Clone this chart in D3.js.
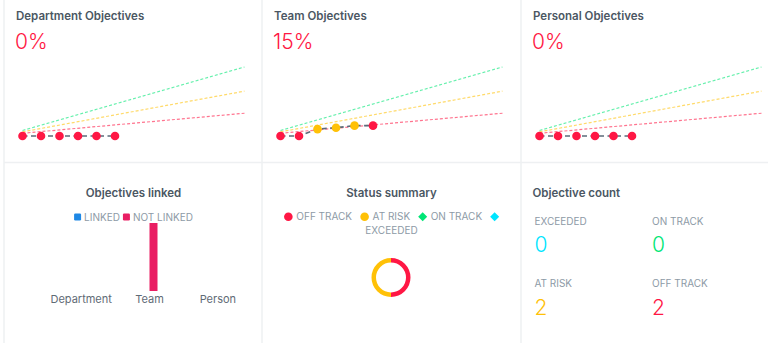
<!DOCTYPE html>
<html>
<head>
<meta charset="utf-8">
<script src="https://cdn.jsdelivr.net/npm/d3@7"></script>
<style>
  html, body { margin: 0; padding: 0; background: #ffffff; }
  svg { display: block; font-family: Inter, "Noto Sans", sans-serif; }
</style>
</head>
<body>
<svg id="dash" width="768" height="343"></svg>
<script>
// ---- data ----
const trendTitles = ["Department Objectives", "Team Objectives", "Personal Objectives"];
const trendProgress = [0, 15, 0];
const periodCount = 13;                      // periods on the progress axis
const deptProgress = [0, 0, 0, 0, 0, 0];
const deptStatus = ["off", "off", "off", "off", "off", "off"];
const teamProgress = [0, 0, 10, 12, 15, 15];
const teamStatus = ["off", "off", "risk", "risk", "risk", "off"];
const personalProgress = [0, 0, 0, 0, 0, 0];
const personalStatus = ["off", "off", "off", "off", "off", "off"];
// expected-progress guides: [first period, last period]
const onTrackGuide = [8, 100];
const atRiskGuide = [6, 65];
const offTrackGuide = [4, 33];

const linkCategories = ["Department", "Team", "Person"];
const linkedCounts = [0, 0, 0];
const notLinkedCounts = [0, 4, 0];

const statusNames = ["OFF TRACK", "AT RISK", "ON TRACK", "EXCEEDED"];
const statusCounts = [2, 2, 0, 0];

const countLabels = ["EXCEEDED", "ON TRACK", "AT RISK", "OFF TRACK"];
const countValues = [0, 0, 2, 2];

// ---- styling ----
const C = {
  off: "#ff1744", risk: "#ffc107", on: "#00e676", exceeded: "#00e5ff",
  linked: "#1e88e5", notLinked: "#e91e63",
  title: "#4b5763", muted: "#8d9aa6", axis: "#5f6b76", border: "#eef0f2", link: "#5b6b7a"
};
const statusColor = { off: C.off, risk: C.risk, on: C.on, exceeded: C.exceeded };
const legendFont = 10;

const svg = d3.select("#dash");

// panel grid
const colLeft = [4, 262, 521];
const rowSplit = 162.5;
svg.append("g").attr("stroke", C.border).attr("stroke-width", 1.5)
  .selectAll("line")
  .data([
    [colLeft[0], 0, colLeft[0], 343],
    [colLeft[1], 0, colLeft[1], 343],
    [colLeft[2], 0, colLeft[2], 343],
    [colLeft[0], rowSplit, 768, rowSplit]
  ])
  .join("line")
  .attr("x1", d => d[0]).attr("y1", d => d[1])
  .attr("x2", d => d[2]).attr("y2", d => d[3]);

// ---- progress trend panels ----
const trendSeries = [
  { values: deptProgress, status: deptStatus },
  { values: teamProgress, status: teamStatus },
  { values: personalProgress, status: personalStatus }
];
const guides = [
  { key: "on", v: onTrackGuide },
  { key: "risk", v: atRiskGuide },
  { key: "off", v: offTrackGuide }
];

trendSeries.forEach((s, i) => {
  const left = colLeft[i];
  const g = svg.append("g");
  g.append("text").attr("x", left + 12).attr("y", 20)
    .attr("font-size", 11.5).attr("font-weight", 600).attr("fill", C.title)
    .text(trendTitles[i]);
  g.append("text").attr("x", left + 11).attr("y", 49)
    .attr("font-size", 21).attr("font-weight", 300).attr("fill", C.off)
    .text(trendProgress[i] + "%");

  const x = d3.scaleLinear().domain([0, periodCount - 1]).range([left + 18.5, left + 240.5]);
  const y = d3.scaleLinear().domain([0, 100]).range([136, 67]);

  g.append("g").selectAll("line").data(guides).join("line")
    .attr("x1", x(0)).attr("x2", x(periodCount - 1))
    .attr("y1", d => y(d.v[0])).attr("y2", d => y(d.v[1]))
    .attr("stroke", d => statusColor[d.key]).attr("stroke-opacity", 0.6)
    .attr("stroke-width", 1.2).attr("stroke-dasharray", "3,2");

  const line = d3.line().x((d, j) => x(j)).y(d => y(d));
  g.append("path").datum(s.values).attr("d", line)
    .attr("fill", "none").attr("stroke", C.link).attr("stroke-width", 1.6)
    .attr("stroke-dasharray", "5,3.5");

  g.append("g").selectAll("circle").data(s.values).join("circle")
    .attr("cx", (d, j) => x(j)).attr("cy", d => y(d)).attr("r", 4.3)
    .attr("fill", (d, j) => statusColor[s.status[j]]);
});

// ---- objectives linked ----
(function () {
  const g = svg.append("g");
  g.append("text").attr("x", 133.5).attr("y", 196.5).attr("text-anchor", "middle")
    .attr("font-size", 11.5).attr("font-weight", 600).attr("fill", C.title)
    .text("Objectives linked");

  // legend
  const items = [{ name: "LINKED", color: C.linked }, { name: "NOT LINKED", color: C.notLinked }];
  const lg = g.append("g");
  let cx = 0;
  items.forEach(it => {
    lg.append("rect").attr("x", cx).attr("y", 213.5).attr("width", 7).attr("height", 7)
      .attr("rx", 1.2).attr("fill", it.color);
    const t = lg.append("text").attr("x", cx + 10).attr("y", 220.8)
      .attr("font-size", legendFont).attr("fill", C.muted).text(it.name);
    cx += 10 + t.node().getComputedTextLength() + 3;
  });
  const lw = cx - 3;
  lg.attr("transform", `translate(${133.5 - lw / 2},0)`);

  const x0 = d3.scaleBand().domain(linkCategories).range([47, 252]);
  const x1 = d3.scaleBand().domain(["linked", "notLinked"]).range([x0.bandwidth() / 2 - 8, x0.bandwidth() / 2 + 8]);
  const y = d3.scaleLinear().domain([0, d3.max(notLinkedCounts.concat(linkedCounts))]).range([291, 223]);

  const groups = g.append("g").selectAll("g").data(linkCategories).join("g")
    .attr("transform", d => `translate(${x0(d)},0)`);
  groups.selectAll("rect")
    .data((d, i) => [
      { key: "linked", v: linkedCounts[i], color: C.linked },
      { key: "notLinked", v: notLinkedCounts[i], color: C.notLinked }
    ])
    .join("rect")
    .attr("x", d => x1(d.key)).attr("width", x1.bandwidth())
    .attr("y", d => y(d.v)).attr("height", d => y(0) - y(d.v))
    .attr("fill", d => d.color);

  const axis = d3.axisBottom(x0).tickSize(0).tickPadding(0);
  const ax = g.append("g").attr("transform", "translate(0,295)").call(axis);
  ax.select(".domain").remove();
  ax.selectAll("text").attr("font-size", 11).attr("fill", C.axis)
    .attr("font-family", "Inter, 'Noto Sans', sans-serif").attr("dy", "0.71em").attr("y", 0);
})();

// ---- status summary ----
(function () {
  const cxc = 391.5;
  const g = svg.append("g");
  g.append("text").attr("x", cxc).attr("y", 196.5).attr("text-anchor", "middle")
    .attr("font-size", 11.5).attr("font-weight", 600).attr("fill", C.title)
    .text("Status summary");

  const keys = ["off", "risk", "on", "exceeded"];
  const shapes = ["circle", "circle", "diamond", "diamond"];
  // inline flow: marker and label are separate tokens that wrap independently
  const tokens = [];
  statusNames.forEach((n, i) => {
    tokens.push({ type: "marker", shape: shapes[i], color: statusColor[keys[i]], w: 9, gapAfter: 3.5 });
    tokens.push({ type: "text", text: n, gapAfter: 8 });
  });
  const meas = g.append("text").attr("font-size", legendFont);
  tokens.forEach(t => { if (t.type === "text") { meas.text(t.text); t.w = meas.node().getComputedTextLength(); } });
  meas.remove();

  const maxW = 222;
  const lines = [[]];
  let w = 0;
  tokens.forEach(t => {
    const cur = lines[lines.length - 1];
    if (cur.length && w + t.w > maxW) { lines.push([t]); w = t.w + t.gapAfter; }
    else { cur.push(t); w += t.w + t.gapAfter; }
  });
  lines.forEach((ln, li) => {
    const total = ln.reduce((a, t, k) => a + t.w + (k < ln.length - 1 ? t.gapAfter : 0), 0);
    let xx = cxc - total / 2;
    const yc = 216.8 + li * 13.8;
    ln.forEach(t => {
      if (t.type === "marker") {
        if (t.shape === "circle") {
          g.append("circle").attr("cx", xx + 4.5).attr("cy", yc).attr("r", 4.3).attr("fill", t.color);
        } else {
          g.append("path").attr("d", d3.symbol(d3.symbolDiamond2, 52)())
            .attr("transform", `translate(${xx + 4.5},${yc})`).attr("fill", t.color);
        }
      } else {
        g.append("text").attr("x", xx).attr("y", yc + 3.6).attr("font-size", legendFont)
          .attr("fill", C.muted).text(t.text);
      }
      xx += t.w + t.gapAfter;
    });
  });

  const pie = d3.pie().sort(null).value(d => d);
  const arc = d3.arc().innerRadius(15).outerRadius(19.5);
  g.append("g").attr("transform", "translate(391,277.5)")
    .selectAll("path").data(pie(statusCounts)).join("path")
    .attr("d", arc).attr("fill", (d, i) => statusColor[keys[i]]);
})();

// ---- objective count ----
(function () {
  const g = svg.append("g");
  g.append("text").attr("x", 532.5).attr("y", 196.5)
    .attr("font-size", 11.5).attr("font-weight", 600).attr("fill", C.title)
    .text("Objective count");
  const colX = [534.5, 652];
  const rowY = [224.5, 287];
  const colors = [C.exceeded, C.on, C.risk, C.off];
  countLabels.forEach((lab, i) => {
    const cx = colX[i % 2], ry = rowY[Math.floor(i / 2)];
    g.append("text").attr("x", cx).attr("y", ry).attr("font-size", legendFont)
      .attr("fill", C.muted).text(lab);
    g.append("text").attr("x", cx).attr("y", ry + 27.5).attr("font-size", 21)
      .attr("font-weight", 300).attr("fill", colors[i]).text(countValues[i]);
  });
})();
</script>
</body>
</html>
